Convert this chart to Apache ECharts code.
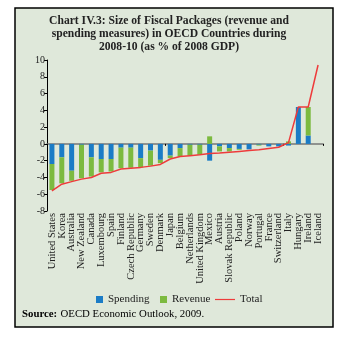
<!DOCTYPE html>
<html><head><meta charset="utf-8">
<script src="https://cdn.jsdelivr.net/npm/echarts@6/dist/echarts.min.js"></script>
<style>html,body{margin:0;padding:0;background:#fff}#c{width:347px;height:337px}</style>
</head><body><div id="c"></div>
<script>
const countries = ["United States","Korea","Australia","New Zealand","Canada","Luxembourg","Spain","Finland","Czech Republic","Germany","Sweden","Denmark","Japan","Belgium","Netherlands","United Kingdom","Mexico","Austria","Slovak Republic","Poland","Norway","Portugal","France","Switzerland","Italy","Hungary","Ireland","Iceland"];
const spending = [-2.4,-1.6,-3.2,-0.1,-1.6,-1.8,-1.8,-0.45,-0.45,-1.7,-0.8,-1.9,-1.4,-0.5,-0.1,-0.1,-2.0,-0.3,-0.5,-0.6,-0.65,-0.1,-0.3,-0.3,-0.2,4.4,1.0,null];
const revenue = [-3.1,-3.1,-1.2,-4.0,-2.3,-1.6,-1.5,-2.45,-2.4,-1.1,-1.8,-0.4,-0.3,-1.0,-1.3,-1.2,0.9,-0.6,-0.4,-0.1,0,-0.1,0,0,0.3,0,3.4,null];
const total = [-5.6,-4.8,-4.5,-4.2,-4.0,-3.5,-3.4,-3.0,-2.9,-2.8,-2.65,-2.45,-1.8,-1.5,-1.4,-1.3,-1.15,-1.1,-1.0,-0.9,-0.8,-0.7,-0.55,-0.4,0.15,4.4,4.4,9.4];
const yTicks = {min:-8, max:10, interval:2};
const titleText = "Chart IV.3: Size of Fiscal Packages (revenue and\nspending measures) in OECD Countries during\n2008-10 (as % of 2008 GDP)";
const serif = "'Liberation Serif','DejaVu Serif',serif";

const legendText = {fontFamily:serif, fontSize:11, color:'#222'};
const chart = echarts.init(document.getElementById('c'), null, {renderer:'canvas'});
chart.setOption({
  backgroundColor:'#ffffff',
  animation:false,
  graphic:[
    {type:'rect', shape:{x:15,y:8,width:318,height:319}, style:{fill:'#dfe8da', stroke:'#000', lineWidth:1.5}, z:-10},
    {type:'text', x:169, y:15, style:{text:titleText, textAlign:'center', fontFamily:serif, fontWeight:'bold', fontSize:11.6, lineHeight:12.8, fill:'#222'}},
    {type:'text', left:22, top:308, style:{rich:{b:{fontWeight:'bold',fontFamily:serif,fontSize:10.8,fill:'#000'},n:{fontFamily:serif,fontSize:10.8,fill:'#000'}}, text:'{b|Source:} {n|OECD Economic Outlook, 2009.}'}}
  ],
  legend:[
    {top:289, left:91, itemWidth:7, itemHeight:7, textStyle:legendText, data:[{name:'Spending', icon:'rect'}]},
    {top:289, left:155, itemWidth:7, itemHeight:7, textStyle:legendText, data:[{name:'Revenue', icon:'rect'}]},
    {top:289, left:210, itemWidth:20, itemHeight:7, textStyle:legendText, data:[{name:'Total', icon:'path://M0,3.2L20,3.2L20,4.4L0,4.4Z'}]}
  ],
  grid:{left:47, right:24, top:60, bottom:126},
  xAxis:[
    {type:'category', data:countries, position:'bottom',
     axisLine:{show:false, onZero:false}, axisTick:{show:false},
     axisLabel:{rotate:90, fontFamily:serif, fontSize:10.5, color:'#222', margin:2, interval:0}},
    {type:'category', data:countries, position:'bottom',
     axisLine:{show:true, onZero:true, onZeroAxisIndex:0, lineStyle:{color:'#777', width:1.5}},
     axisTick:{show:true, length:2, lineStyle:{color:'#000'}}, axisLabel:{show:false}}
  ],
  yAxis:{type:'value', min:yTicks.min, max:yTicks.max, interval:yTicks.interval,
    axisLine:{show:true, lineStyle:{color:'#000', width:1}}, axisTick:{show:true, length:3, lineStyle:{color:'#000'}},
    splitLine:{show:false},
    axisLabel:{fontFamily:serif, fontSize:10, color:'#222', margin:2}},
  series:[
    {name:'Spending', type:'bar', stack:'s', data:spending, barWidth:5, itemStyle:{color:'#1b7cc6'}},
    {name:'Revenue', type:'bar', stack:'s', data:revenue, barWidth:5, itemStyle:{color:'#7cba3f'}},
    {name:'Total', type:'line', data:total, symbol:'none', lineStyle:{color:'#ee3b3b', width:1.5}, itemStyle:{color:'#ee3b3b'}, z:5}
  ]
});
</script></body></html>
